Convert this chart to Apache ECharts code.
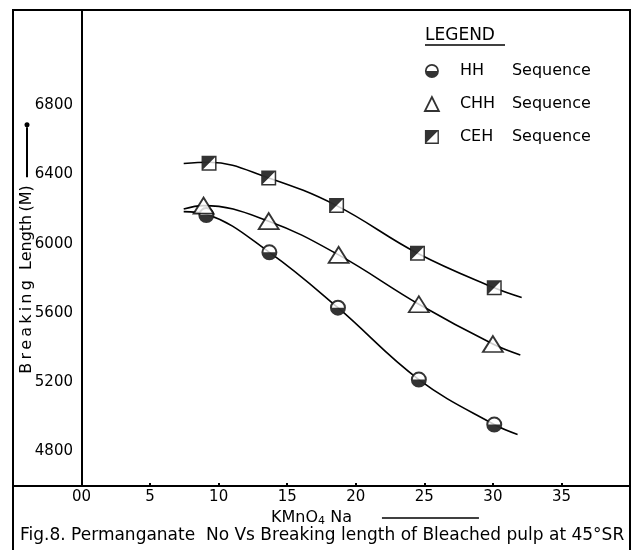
<!DOCTYPE html>
<html>
<head>
<meta charset="utf-8">
<script src="https://cdn.jsdelivr.net/npm/echarts@6/dist/echarts.min.js"></script>
<style>
  html, body { margin: 0; padding: 0; background: #fff; }
  #chart { width: 635px; height: 550px; }
</style>
</head>
<body>
<div id="chart"></div>
<script>
// values (KMnO4 number vs breaking length, m)
var hhX  = [9.1, 13.7, 18.7, 24.6, 30.1];
var hhY  = [6165, 5950, 5630, 5215, 4955];
var chhX = [8.9, 13.65, 18.75, 24.6, 30.0];
var chhY = [6220, 6130, 5935, 5650, 5420];
var cehX = [9.3, 13.65, 18.6, 24.5, 30.1];
var cehY = [6465, 6380, 6220, 5945, 5745];

// the hand-drawn fitted curves, read along their length
var hhCurve  = [[7.45, 6185], [9.1, 6170], [13.7, 5950], [18.7, 5630], [24.6, 5215], [30.1, 4955], [31.8, 4898]];
var chhCurve = [[7.45, 6200], [8.9, 6220], [13.65, 6130], [18.75, 5935], [24.6, 5650], [30.0, 5420], [32.0, 5357]];
var cehCurve = [[7.45, 6463], [9.3, 6470], [13.65, 6380], [18.6, 6220], [24.5, 5945], [30.1, 5745], [32.1, 5689]];

var xTicks = [0, 5, 10, 15, 20, 25, 30, 35];
var yTicks = [4800, 5200, 5600, 6000, 6400, 6800];

var hhPath  = 'path://M0,10A10,10,0,0,1,20,10L17.5,10A7.5,7.5,0,0,0,2.5,10ZM0,10A10,10,0,0,0,20,10Z';
var cehPath = 'path://M0,0L20,0L0,20ZM18,0L20,0L20,20L18,20ZM0,18L20,18L20,20L0,20Z';

function pairs(xs, ys) {
  return xs.map(function (x, i) { return [x, ys[i]]; });
}

var font = 'DejaVu Sans';
var thin = '\u2009';
var myChart = echarts.init(document.getElementById('chart'));

var option = {
  animation: false,
  backgroundColor: '#fff',
  textStyle: { fontFamily: font, color: '#000' },
  title: {
    text: 'Fig.8. Permanganate  No Vs Breaking length of Bleached pulp at 45°SR',
    left: 15,
    top: 522,
    textStyle: { fontFamily: font, fontSize: 17, fontWeight: 'normal', color: '#000' }
  },
  grid: { left: 13, right: 5, top: 10, bottom: 64, outerBoundsMode: 'none' },
  legend: {
    orient: 'vertical',
    left: 419,
    top: 58,
    itemWidth: 14,
    itemHeight: 14,
    itemGap: 17,
    selectedMode: false,
    data: [
      { name: 'HH', icon: hhPath, itemStyle: { color: '#000', borderWidth: 0 } },
      { name: 'CHH', icon: 'triangle', itemStyle: { color: '#fff', borderColor: '#000', borderWidth: 1.8 } },
      { name: 'CEH', icon: cehPath, itemStyle: { color: '#000', borderWidth: 0 } }
    ],
    formatter: function (name) { return '{n|' + name + '}{s|Sequence}'; },
    textStyle: {
      fontFamily: font,
      fontSize: 16,
      color: '#000',
      rich: {
        n: { fontFamily: font, fontSize: 16, width: 52, padding: [0, 0, 0, 16] },
        s: { fontFamily: font, fontSize: 16 }
      }
    }
  },
  xAxis: {
    type: 'value',
    min: -5,
    max: 40,
    interval: 5,
    name: '{t|KMnO}{s|4}{t| Na}{g|}{a|}',
    nameLocation: 'middle',
    nameGap: 19,
    nameTextStyle: {
      padding: [0, 0, 0, 107],
      rich: {
        t: { fontFamily: font, fontSize: 16, color: '#000' },
        s: { fontFamily: font, fontSize: 11, color: '#000', padding: [6, 0, 0, 0] },
        g: { width: 30 },
        a: { width: 97, height: 1.5, backgroundColor: '#000' }
      }
    },
    axisLine: { onZero: false, lineStyle: { color: '#000', width: 2 } },
    axisTick: { show: true, inside: true, length: 3, lineStyle: { color: '#000', width: 2 } },
    splitLine: { show: false },
    axisLabel: {
      margin: 4,
      fontFamily: font,
      fontSize: 15,
      color: '#000',
      formatter: function (v) {
        if (xTicks.indexOf(v) < 0) return '';
        return v === 0 ? '00' : String(v);
      }
    }
  },
  yAxis: {
    type: 'value',
    min: 4600,
    max: 7350,
    interval: 200,
    offset: -69,
    name: '{t|B' + thin + 'r' + thin + 'e' + thin + 'a' + thin + 'k' + thin + 'i' + thin + 'n' + thin + 'g  Length' + thin + '(M)}{g|}{a|}{d|}',
    nameLocation: 'middle',
    nameGap: 47,
    nameRotate: 90,
    nameMoveOverlap: false,
    nameTextStyle: {
      rich: {
        t: { fontFamily: font, fontSize: 16, color: '#000' },
        g: { width: 8 },
        a: { width: 50, height: 2, backgroundColor: '#000' },
        d: { width: 5, height: 5, borderRadius: 2.5, backgroundColor: '#000' }
      }
    },
    axisLine: { onZero: false, lineStyle: { color: '#000', width: 2 } },
    axisTick: { show: false },
    splitLine: { show: false },
    axisLabel: {
      margin: 9,
      fontFamily: font,
      fontSize: 15,
      color: '#000',
      formatter: function (v) { return yTicks.indexOf(v) >= 0 ? String(v) : ''; }
    }
  },
  graphic: [
    {
      type: 'rect', silent: true, z: 100,
      shape: { x: 13, y: 10, width: 617, height: 560 },
      style: { fill: 'none', stroke: '#000', lineWidth: 2 }
    },
    {
      type: 'text', left: 425, top: 27, silent: true,
      style: { text: 'LEGEND', fontFamily: font, fontSize: 17, fill: '#000' }
    },
    {
      type: 'line', silent: true,
      shape: { x1: 425, y1: 45, x2: 505, y2: 45 },
      style: { stroke: '#000', lineWidth: 1.5 }
    }
  ],
  series: [
    { name: 'HH curve', type: 'line', data: hhCurve, smooth: 0.4, showSymbol: false, z: 1,
      lineStyle: { color: '#000', width: 1.6 } },
    { name: 'CHH curve', type: 'line', data: chhCurve, smooth: 0.4, showSymbol: false, z: 1,
      lineStyle: { color: '#000', width: 1.6 } },
    { name: 'CEH curve', type: 'line', data: cehCurve, smooth: 0.4, showSymbol: false, z: 1,
      lineStyle: { color: '#000', width: 1.6 } },

    { name: 'HH bg', type: 'scatter', data: pairs(hhX, hhY), symbol: 'circle', symbolSize: 15, z: 3,
      itemStyle: { color: '#fff' } },
    { name: 'HH', type: 'scatter', data: pairs(hhX, hhY), symbol: hhPath, symbolSize: 16, z: 4,
      itemStyle: { color: '#000' } },

    { name: 'CHH', type: 'scatter', data: pairs(chhX, chhY), symbol: 'triangle', symbolSize: [20, 16], z: 4,
      itemStyle: { color: '#fff', borderColor: '#000', borderWidth: 1.8 } },

    { name: 'CEH bg', type: 'scatter', data: pairs(cehX, cehY), symbol: 'rect', symbolSize: 14, z: 3,
      itemStyle: { color: '#fff' } },
    { name: 'CEH', type: 'scatter', data: pairs(cehX, cehY), symbol: cehPath, symbolSize: 15, z: 4,
      itemStyle: { color: '#000' } }
  ]
};
myChart.setOption(option);
</script>
</body>
</html>
